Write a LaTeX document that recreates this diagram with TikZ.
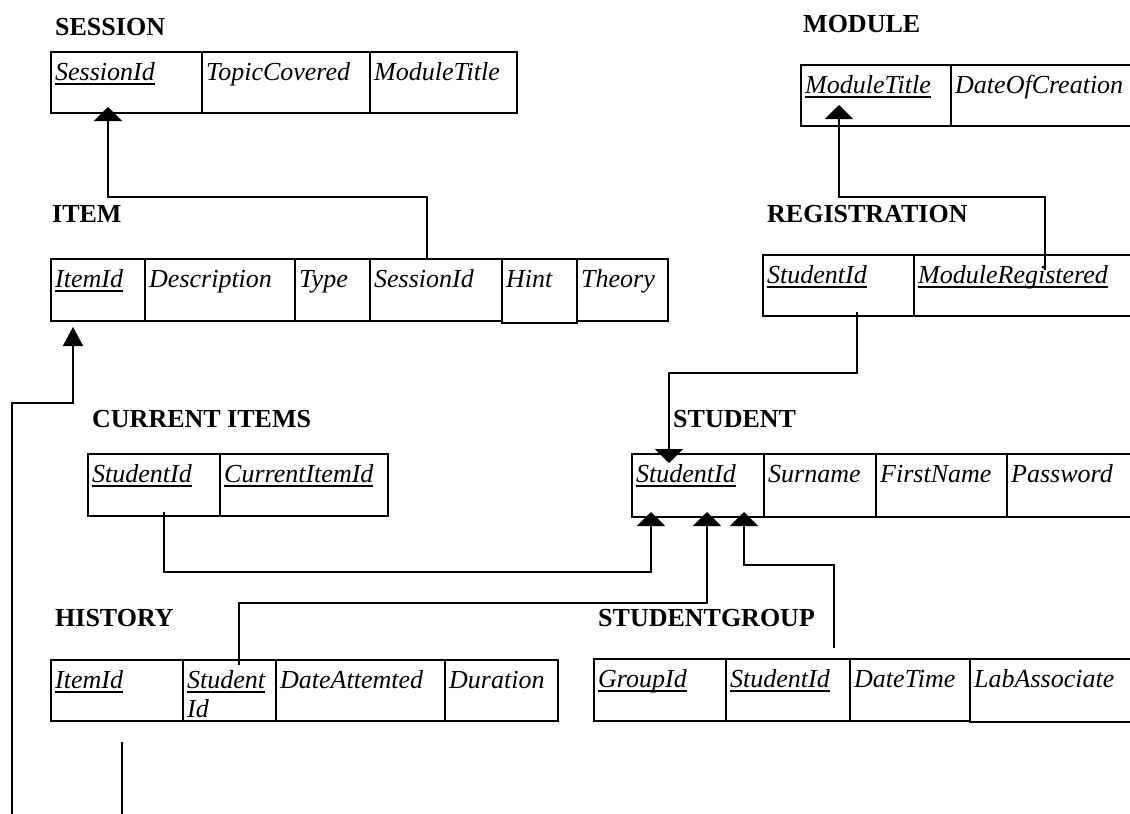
\documentclass[tikz,border=0pt]{standalone}
\usepackage{fontspec}
\setmainfont{Liberation Serif}
\usetikzlibrary{arrows.meta}
\newcommand\keyu[1]{\setbox0\hbox{#1}\rlap{\rule[-5pt]{\wd0}{1.8pt}}\box0}
\newcommand\ercell[7][]{%
  \node[cellbox,#1,minimum width={(#5-#3)*1pt},minimum height={(#6-#4)*1pt}] (#2) at (#3,#4) {};
  \node[celltxt] (#2-t) at ([shift={(4pt,-28pt)}]#2.north west) {#7};}
\begin{document}
\begin{tikzpicture}[x=1pt,y=-1pt,
  cellbox/.style={draw,line width=1.6pt,anchor=north west,inner sep=0pt,outer sep=0pt},
  thick cell/.style={line width=2.8pt},
  celltxt/.style={anchor=base west,inner sep=0pt,font=\itshape\fontsize{26}{30}\selectfont},
  tabtitle/.style={anchor=base west,inner sep=0pt,font=\bfseries\fontsize{26}{30}\selectfont},
  conn/.style={line width=1.6pt},
  fk/.style={conn,-{Triangle[width=28pt,length=14pt]}},
  fksmall/.style={conn,-{Triangle[width=20pt,length=19pt]}}]
\useasboundingbox (0,0) rectangle (1130,814);
\clip (0,0) rectangle (1130,814);
\fill[white] (0,0) rectangle (1130,814);

% titles
\node[tabtitle] (t-session) at (55,35) {SESSION};
\node[tabtitle] (t-module) at (803,32) {MODULE};
\node[tabtitle] (t-item) at (52,222) {ITEM};
\node[tabtitle] (t-reg) at (767,222) {REGISTRATION};
\node[tabtitle] (t-cur) at (92,427) {CURRENT ITEMS};
\node[tabtitle] (t-stu) at (673,427) {STUDENT};
\node[tabtitle] (t-hist) at (55,626) {HISTORY};
\node[tabtitle] (t-sg) at (598,626) {STUDENTGROUP};

% SESSION
\ercell{ssid}{51}{52}{202}{113}{\keyu{SessionId}}
\ercell{stopic}{202}{52}{370}{113}{TopicCovered}
\ercell[thick cell]{smod}{370}{52}{517}{113}{ModuleTitle}

% MODULE
\ercell{mtitle}{801}{65}{951}{126}{\keyu{ModuleTitle}}
\ercell{mdate}{951}{65}{1140}{126}{DateOfCreation}

% ITEM
\ercell{iid}{51}{259}{145}{321}{\keyu{ItemId}}
\ercell{idesc}{145}{259}{295}{321}{Description}
\ercell{itype}{295}{259}{370}{321}{Type}
\ercell{isid}{370}{259}{502}{321}{SessionId}
\ercell{ihint}{502}{259}{577}{323}{Hint}
\ercell{itheory}{577}{259}{668}{321}{Theory}

% REGISTRATION
\ercell{rsid}{763}{255}{914}{316}{\keyu{StudentId}}
\ercell{rmod}{914}{255}{1140}{316}{\keyu{ModuleRegistered}}

% CURRENT ITEMS
\ercell{csid}{88}{454}{220}{516}{\keyu{StudentId}}
\ercell{ccur}{220}{454}{388}{516}{\keyu{CurrentItemId}}

% STUDENT
\ercell{sid}{632}{454}{764}{517}{\keyu{StudentId}}
\ercell{ssur}{764}{454}{876}{517}{Surname}
\ercell{sfirst}{876}{454}{1007}{517}{FirstName}
\ercell{spass}{1007}{454}{1140}{517}{Password}

% HISTORY
\ercell{hiid}{51}{660}{183}{721}{\keyu{ItemId}}
\ercell{hsid}{183}{660}{276}{721}{\keyu{Student}}
\node[celltxt] (hsid-t2) at ([shift={(4pt,-57pt)}]hsid.north west) {Id};
\ercell{hdate}{276}{660}{445}{721}{DateAttemted}
\ercell{hdur}{445}{660}{558}{721}{Duration}

% STUDENTGROUP
\ercell{ggid}{594}{659}{726}{721}{\keyu{GroupId}}
\ercell{gsid}{726}{659}{850}{721}{\keyu{StudentId}}
\ercell{gdt}{850}{659}{970}{721}{DateTime}
\ercell{glab}{970}{659}{1140}{722}{LabAssociate}

% connectors
\draw[fk] ([xshift=57pt]isid.north west) -- ++(0,-62) -| ([xshift=57pt,yshift=6pt]ssid.south west);
\draw[fk] ([xshift=131pt,yshift=-15pt]rmod.north west) -- ++(0,-73) -| ([xshift=38pt,yshift=21pt]mtitle.south west);
\draw[fk] ([xshift=94pt,yshift=4pt]rsid.south west) -- ++(0,61) -| ([xshift=37pt,yshift=-9pt]sid.north west);
\coordinate (isrc) at (12,814);
\draw[fksmall] (isrc) -- ++(0,-411) -| ([xshift=22pt,yshift=-6pt]iid.south west);
\draw[fk] ([xshift=76pt,yshift=4pt]csid.south west) -- ++(0,60) -| ([xshift=19pt,yshift=5pt]sid.south west);
\draw[fk] ([xshift=56pt,yshift=-5pt]hsid.north west) -- ++(0,-62) -| ([xshift=75pt,yshift=5pt]sid.south west);
\draw[fk] ([xshift=108pt,yshift=11pt]gsid.north west) -- ++(0,-83) -| ([xshift=112pt,yshift=5pt]sid.south west);
\coordinate (hl1) at (122,742);
\coordinate (hl2) at (122,814);
\draw[conn] (hl1) -- (hl2);
\end{tikzpicture}
\end{document}
